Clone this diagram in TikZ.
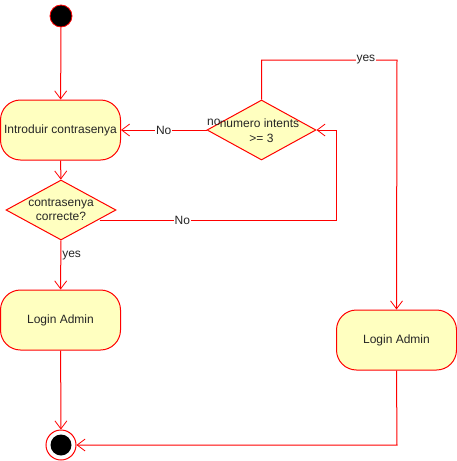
\documentclass[tikz,border=0pt]{standalone}
\usepackage{fontspec}
\setmainfont{Liberation Sans}
\usetikzlibrary{arrows.meta,shapes.geometric}
\definecolor{umlfill}{HTML}{FFFFC0}
\definecolor{umlline}{HTML}{FF0000}
\tikzset{
  every node/.style={font=\fontsize{12}{14}\selectfont, text=black!85},
  action/.style={draw=umlline, fill=umlfill, rounded corners=20pt, minimum width=120pt, minimum height=60pt, inner sep=0pt, line width=1pt},
  choice/.style={draw=umlline, fill=umlfill, diamond, aspect=1.83, minimum width=110pt, minimum height=60pt, inner sep=0pt, align=center, line width=1pt},
  flow/.style={draw=umlline, line width=1pt, -{Straight Barb[length=8pt,width=12pt,line width=0.8pt]}},
  lbl/.style={fill=white, inner sep=1pt},
}
\begin{document}
\begin{tikzpicture}[x=1pt,y=-1pt]
\useasboundingbox (0,0) rectangle (457,461);

% initial and final states
\node[circle, fill=black, draw=umlline, line width=0.8pt, minimum size=22pt, inner sep=0pt] (start) at (61,16) {};
\node[circle, draw=umlline, fill=white, line width=1pt, minimum size=30pt, inner sep=0pt] (stop) at (61,445) {};
\node[circle, fill=black, minimum size=21pt, inner sep=0pt] (stopdot) at (61,445) {};

% actions
\node[action] (intro) at (60.5,130) {Introduir contrasenya};
\node[action] (loginL) at (60.5,320) {Login Admin};
\node[action] (loginR) at (396.5,340) {Login Admin};

% decisions
\node[choice] (check) at (61,210) {contrasenya\\correcte?};
\node[choice, minimum width=109pt] (tries) at (261.5,130) {};
\node at (259.5,123) {numero intents};
\node at (261.5,138) {>= 3};
\node[anchor=base west, inner sep=0pt] (nolbl) at (207,125) {no};

% coordinates for bends
\coordinate (bendA) at (336,220);
\coordinate (bendB) at (336,130);
\coordinate (topL) at (261.5,60);
\coordinate (topR) at (397,60);
\coordinate (botR) at (397,445);

% flows
\draw[flow] (start) -- (intro);
\draw[flow] (intro) -- (check);
\draw[flow] (check) -- node[pos=0.3, right=0pt, fill=none, inner sep=1pt] {yes} (loginL);
\draw[flow] (loginL) -- (stop);
\draw[flow] (check.east |- bendA) ++(-17,0) -- node[lbl, pos=0.35] {No} (bendA) -- (bendB) -- (tries.east);
\draw[flow] (tries.west) -- node[lbl] {No} (intro.east);
\draw[flow] (tries.north) -- (topL) -- node[lbl, pos=0.77, inner sep=0.5pt] {yes} (topR) -- (loginR.north);
\draw[flow] (loginR.south) -- (botR) -- (stop.east);
\end{tikzpicture}
\end{document}
